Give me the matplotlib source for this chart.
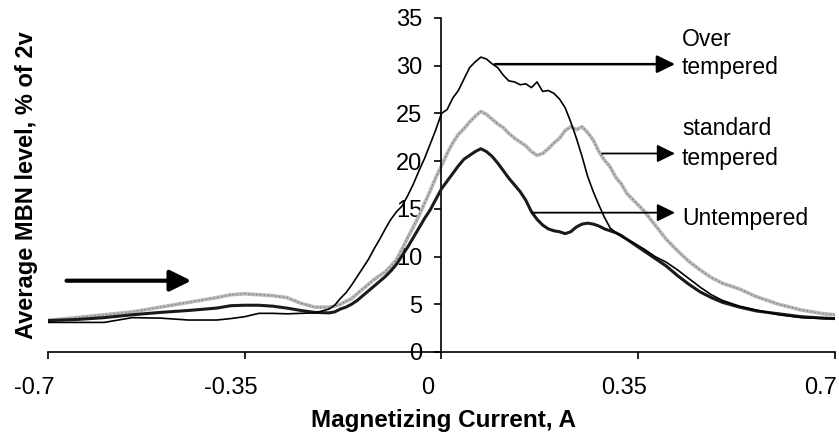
import numpy as np
import matplotlib
matplotlib.use('Agg')
import matplotlib.pyplot as plt
import matplotlib.transforms as mtransforms

plt.rcParams['font.family'] = ['Liberation Sans', 'DejaVu Sans']
plt.rcParams['axes.unicode_minus'] = False

# magnetizing current, A
current = [-0.70, -0.65, -0.60, -0.55, -0.50, -0.45, -0.40, -0.375, -0.35, -0.325,
           -0.30, -0.275, -0.25, -0.225,
           -0.20, -0.19, -0.18, -0.17, -0.16, -0.15, -0.14, -0.13, -0.12, -0.11,
           -0.10, -0.09, -0.08, -0.07, -0.06, -0.05, -0.04, -0.03, -0.02, -0.01,
           0.00, 0.01, 0.02, 0.03, 0.04, 0.05, 0.06, 0.07, 0.08, 0.09,
           0.10, 0.11, 0.12, 0.13, 0.14, 0.15, 0.16, 0.17, 0.18, 0.19,
           0.20, 0.21, 0.22, 0.23, 0.24, 0.25, 0.26, 0.27, 0.28, 0.29,
           0.30, 0.31, 0.32, 0.33, 0.34,
           0.36, 0.38, 0.40, 0.42, 0.44, 0.46, 0.48, 0.50, 0.53, 0.56,
           0.60, 0.64, 0.68, 0.70]

# average MBN level, % of 2v
over_tempered = [3.1, 3.1, 3.1, 3.6, 3.55, 3.35, 3.35, 3.5, 3.7, 4.05,
                 4.05, 4.0, 4.05, 4.1,
                 4.5, 4.9, 5.6, 6.2, 7.0, 7.9, 8.8, 9.7, 10.8, 11.8,
                 12.9, 13.9, 14.7, 15.3, 16.4, 17.6, 19.0, 20.3, 21.8, 23.3,
                 25.0, 25.4, 26.6, 27.4, 28.6, 29.8, 30.4, 30.9, 30.7, 30.2,
                 29.8, 29.0, 28.4, 28.3, 28.0, 28.1, 27.7, 28.3, 27.3, 27.4,
                 27.1, 26.5, 25.6, 24.1, 22.4, 20.5, 18.4, 16.8, 15.4, 14.1,
                 13.0, 12.5, 12.1, 11.8, 11.5,
                 10.8, 10.0, 9.4, 8.6, 7.7, 6.8, 6.0, 5.4, 4.8, 4.4,
                 3.9, 3.6, 3.5, 3.5]

standard_tempered = [3.3, 3.6, 3.9, 4.2, 4.7, 5.2, 5.7, 6.0, 6.1, 6.0,
                     5.9, 5.7, 5.1, 4.7,
                     4.7, 4.8, 5.0, 5.3, 5.6, 6.1, 6.6, 7.1, 7.6, 8.0,
                     8.4, 9.0, 9.7, 10.8, 12.0, 13.1, 14.3, 15.6, 16.9, 18.3,
                     19.5, 20.8, 21.9, 22.8, 23.4, 24.1, 24.7, 25.2, 24.9, 24.4,
                     23.9, 23.5, 22.9, 22.4, 22.0, 21.6, 21.0, 20.6, 20.8, 21.3,
                     21.9, 22.4, 23.2, 23.6, 23.3, 23.6, 23.0, 22.2, 21.0, 20.1,
                     19.4, 18.3, 17.6, 16.6, 16.0,
                     14.8, 13.3, 11.8, 10.6, 9.5, 8.6, 7.8, 7.2, 6.6, 5.8,
                     5.0, 4.4, 4.0, 3.9]

untempered = [3.3, 3.4, 3.6, 3.9, 4.15, 4.35, 4.6, 4.85, 4.9, 4.9,
              4.8, 4.6, 4.35, 4.15,
              4.1, 4.2, 4.5, 4.7, 5.0, 5.4, 5.9, 6.4, 6.9, 7.4,
              7.9, 8.5, 9.2, 10.1, 11.0, 12.0, 13.0, 14.0, 14.9, 16.0,
              17.1, 17.9, 18.7, 19.5, 20.2, 20.6, 21.0, 21.3, 21.0, 20.5,
              19.8, 19.0, 18.2, 17.5, 16.8, 15.9, 14.7, 13.9, 13.3, 12.9,
              12.7, 12.6, 12.4, 12.6, 13.1, 13.4, 13.5, 13.4, 13.2, 12.9,
              12.7, 12.5, 12.2, 11.8, 11.4,
              10.6, 9.8, 9.0, 8.0, 7.1, 6.3, 5.7, 5.2, 4.7, 4.3,
              4.0, 3.7, 3.55, 3.5]

xticks = [-0.7, -0.35, 0, 0.35, 0.7]
xtick_labels = ['-0.7', '-0.35', '0', '0.35', '0.7']
yticks = [0, 5, 10, 15, 20, 25, 30, 35]

fig = plt.figure(figsize=(8.39, 4.45), dpi=100)
ax = fig.add_axes([0.0572, 0.209, 0.938, 0.7506])

# standard tempered: grey speckled trace
ax.plot(current, standard_tempered, color='#b8b8b8', lw=2.6, zorder=2)
ax.plot(current, standard_tempered, color='#6e6e6e', lw=0.8, ls=(0, (1, 2.5)), zorder=2)
ax.plot(current, untempered, color='#1a1a1a', lw=2.2, zorder=3)
ax.plot(current, over_tempered, color='black', lw=1.2, zorder=4)

ax.set_xlim(-0.7, 0.7)
ax.set_ylim(0, 35)

for s in ['top', 'right']:
    ax.spines[s].set_visible(False)
ax.spines['left'].set_position(('data', 0))
ax.spines['left'].set_linewidth(1.2)
ax.spines['bottom'].set_linewidth(1.2)

ax.set_xticks(xticks)
ax.set_xticklabels(xtick_labels)
ax.set_yticks(yticks)
ax.tick_params(axis='both', direction='out', length=5, width=1.2, labelsize=17)
ax.tick_params(axis='x', pad=13)
ax.tick_params(axis='y', pad=9)

shift = mtransforms.ScaledTranslation(-0.14, 0, fig.dpi_scale_trans)
for lab in ax.get_xticklabels():
    lab.set_transform(lab.get_transform() + shift)

fig.text(0.529, 0.056, 'Magnetizing Current, A', fontsize=17.5, fontweight='bold',
         ha='center', va='center')
fig.text(0.032, 0.585, 'Average MBN level, % of 2v', rotation=90, fontsize=17,
         fontweight='bold', ha='center', va='center')

head = '-|>,head_length=0.55,head_width=0.27'
ax.annotate('', xy=(0.4155, 30.16), xytext=(0.095, 30.16),
            arrowprops=dict(arrowstyle=head, lw=1.8, color='black',
                            shrinkA=0, shrinkB=0, mutation_scale=20))
ax.annotate('', xy=(0.4155, 20.8), xytext=(0.2856, 20.8),
            arrowprops=dict(arrowstyle=head, lw=1.3, color='black',
                            shrinkA=0, shrinkB=0, mutation_scale=20))
ax.annotate('', xy=(0.4155, 14.6), xytext=(0.161, 14.6),
            arrowprops=dict(arrowstyle=head, lw=1.3, color='black',
                            shrinkA=0, shrinkB=0, mutation_scale=20))
ax.annotate('', xy=(-0.445, 7.47), xytext=(-0.667, 7.47),
            arrowprops=dict(arrowstyle='-|>,head_length=0.65,head_width=0.32', lw=3,
                            color='black', shrinkA=0, shrinkB=0, mutation_scale=20))

tx = 0.428
ax.text(tx, 32.08, 'Over', fontsize=16.5, va='baseline')
ax.text(tx, 29.14, 'tempered', fontsize=16.5, va='baseline')
ax.text(tx, 22.75, 'standard', fontsize=16.5, va='baseline')
ax.text(tx, 19.6, 'tempered', fontsize=16.5, va='baseline')
ax.text(tx, 13.3, 'Untempered', fontsize=16.5, va='baseline')

fig.savefig('out.png', dpi=100)
